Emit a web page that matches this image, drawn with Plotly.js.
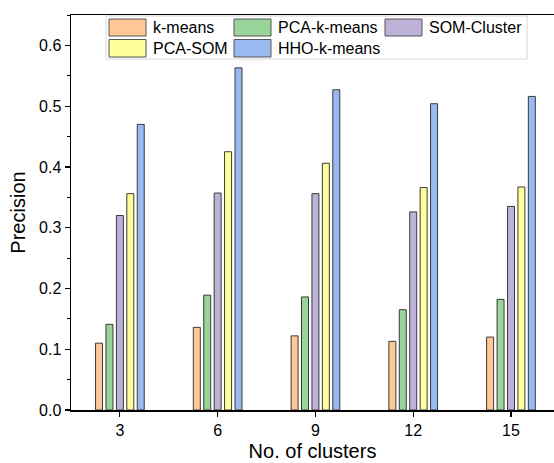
<!DOCTYPE html>
<html>
<head>
<meta charset="utf-8">
<script src="https://cdn.plot.ly/plotly-3.0.1.min.js"></script>
<style>html,body{margin:0;padding:0;background:#fff;}#chart{width:554px;height:463px;}</style>
</head>
<body>
<div id="chart"></div>
<script>
var clusters = [3, 6, 9, 12, 15];
var seriesNames = ["k-means", "PCA-k-means", "SOM-Cluster", "PCA-SOM", "HHO-k-means"];
var kmeans    = [0.110, 0.136, 0.122, 0.113, 0.120];
var pcaKmeans = [0.141, 0.189, 0.186, 0.165, 0.182];
var somCluster= [0.320, 0.357, 0.356, 0.326, 0.335];
var pcaSom    = [0.356, 0.425, 0.406, 0.366, 0.367];
var hhoKmeans = [0.470, 0.563, 0.527, 0.504, 0.516];
var yTicks = [0, 0.1, 0.2, 0.3, 0.4, 0.5, 0.6];

var colors = ["#FFC794", "#99D49A", "#BEB1D8", "#FFFF99", "#99BAF0"];
var seriesValues = [kmeans, pcaKmeans, somCluster, pcaSom, hhoKmeans];
var FONT = "Liberation Sans, Arial, sans-serif";

var traces = seriesValues.map(function (vals, i) {
  return {
    type: "bar",
    x: clusters,
    y: vals,
    name: seriesNames[i],
    marker: { color: colors[i], line: { color: "#3a3a3a", width: 1 } },
    showlegend: false
  };
});

// plot area in pixels
var L = 71, R = 554, T = 15, B = 410;
function px(x) { return (x - L) / (R - L); }
function py(y) { return (B - y) / (B - T); }

var shapes = [];
var annotations = [];
// legend box
shapes.push({
  type: "rect", xref: "paper", yref: "paper", layer: "above",
  x0: px(106), x1: px(527), y0: py(59), y1: py(16),
  fillcolor: "#ffffff", line: { color: "#d8d8d8", width: 1 }
});
var colX = [109, 234, 385];
var rowY = [[19, 36], [39.5, 57]];
for (var i = 0; i < seriesNames.length; i++) {
  var c = i % 3, r = Math.floor(i / 3);
  var x0 = colX[c];
  shapes.push({
    type: "rect", xref: "paper", yref: "paper", layer: "above",
    x0: px(x0), x1: px(x0 + 37), y0: py(rowY[r][1]), y1: py(rowY[r][0]),
    fillcolor: colors[i], line: { color: "#555555", width: 1 }
  });
  annotations.push({
    xref: "paper", yref: "paper", x: px(x0 + 42), y: py((rowY[r][0] + rowY[r][1]) / 2),
    xanchor: "left", yanchor: "middle", showarrow: false,
    text: seriesNames[i], font: { family: FONT, size: 16, color: "#000" }
  });
}

var layout = {
  width: 554, height: 463,
  margin: { l: L, r: 554 - R, t: T, b: 463 - B, pad: 0 },
  paper_bgcolor: "#ffffff", plot_bgcolor: "#ffffff",
  font: { family: FONT, size: 16, color: "#000" },
  barmode: "group",
  bargap: 0.467,
  bargroupgap: 0.33,
  xaxis: {
    range: [1.5, 16.32],
    tickvals: clusters,
    ticktext: clusters.map(String),
    ticks: "outside", ticklen: 5, tickwidth: 1.2, tickcolor: "#000",
    showline: true, linecolor: "#000", linewidth: 1.5, mirror: true,
    showgrid: false, zeroline: false,
    tickfont: { family: FONT, size: 16 },
    title: { text: "No. of clusters", font: { family: FONT, size: 20 }, standoff: 6 }
  },
  yaxis: {
    range: [0, 0.65],
    tickvals: yTicks,
    tickformat: ".1f",
    ticks: "outside", ticklen: 5, tickwidth: 1.2, tickcolor: "#000",
    minor: { dtick: 0.05, tick0: 0.05, ticks: "outside", ticklen: 3, tickwidth: 1, tickcolor: "#000", showgrid: false },
    showline: true, linecolor: "#000", linewidth: 1.5,
    showgrid: false, zeroline: false,
    tickfont: { family: FONT, size: 16 },
    title: { text: "Precision", font: { family: FONT, size: 20 }, standoff: 8 }
  },
  shapes: shapes,
  annotations: annotations
};

Plotly.newPlot("chart", traces, layout, { displayModeBar: false, staticPlot: true });
</script>
</body>
</html>
